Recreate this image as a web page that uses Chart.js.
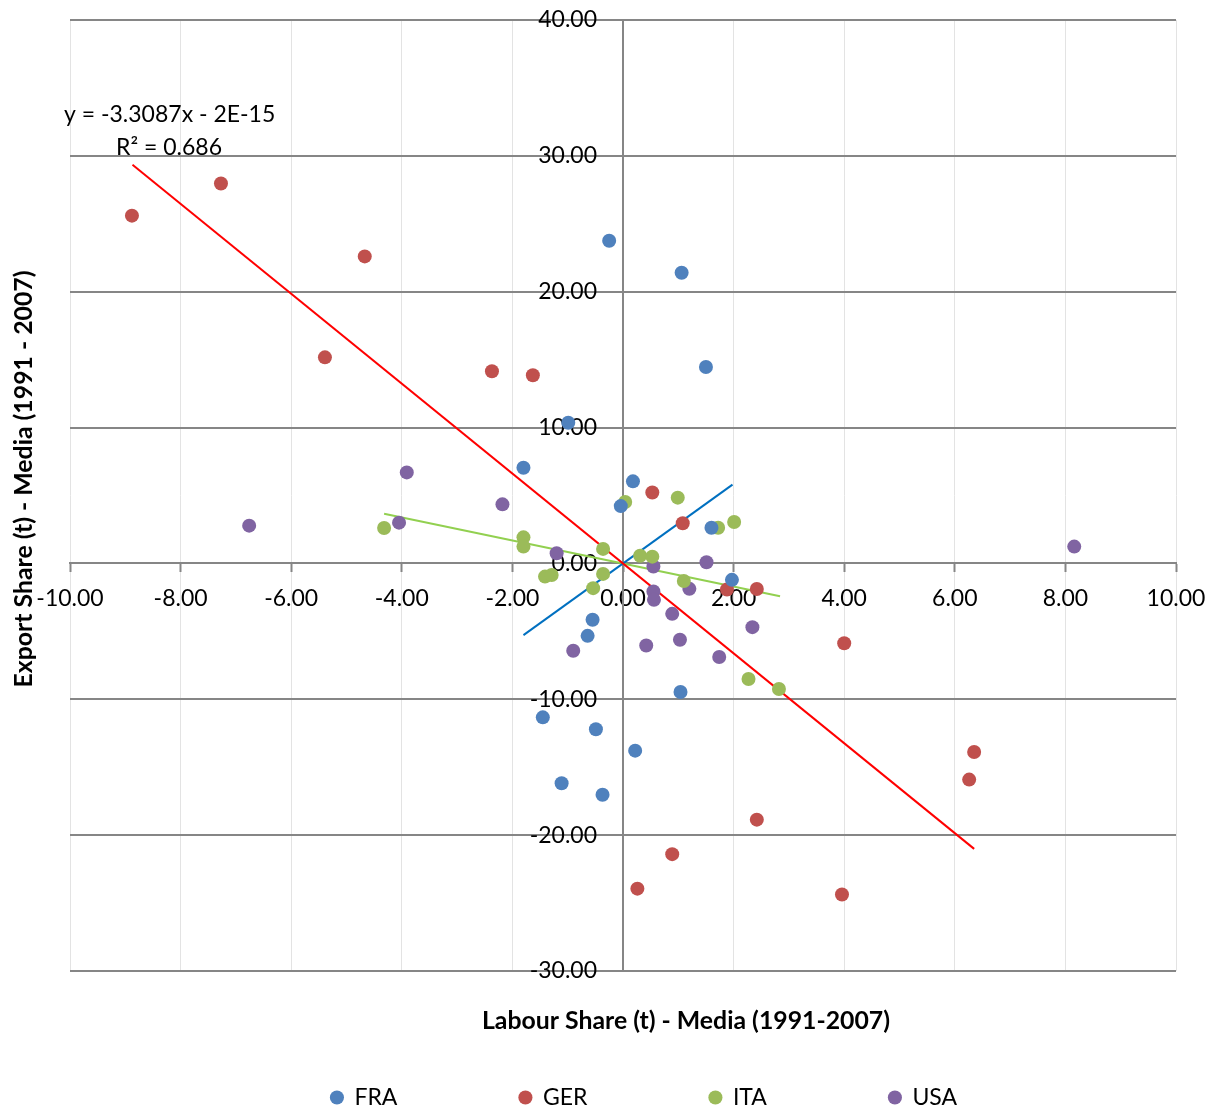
<!DOCTYPE html>
<html>
<head>
<meta charset="utf-8">
<script src="https://cdn.jsdelivr.net/npm/chart.js@4.4.0/dist/chart.umd.min.js"></script>
<style>
  html, body { margin: 0; padding: 0; background: #fff; }
</style>
</head>
<body>
<canvas id="scatterChart" width="1219" height="1110"></canvas>
<script>
// values (labour share x, export share y)
const fraX = [-0.25, 1.06, 1.50, -0.99, -1.80, 0.18, -0.04, 1.60, 1.97, -0.55, -0.64, 1.04, -1.45, -0.49, 0.22, -1.11, -0.37];
const fraY = [23.75, 21.40, 14.46, 10.35, 7.04, 6.04, 4.22, 2.63, -1.21, -4.15, -5.33, -9.46, -11.33, -12.21, -13.78, -16.18, -17.03];

const gerX = [-8.88, -7.27, -4.67, -5.39, -2.37, -1.63, 0.53, 1.08, 1.88, 2.42, 4.00, 6.35, 6.26, 2.42, 0.89, 0.26, 3.96];
const gerY = [25.60, 27.96, 22.60, 15.17, 14.15, 13.85, 5.22, 2.96, -1.92, -1.88, -5.88, -13.88, -15.91, -18.86, -21.40, -23.94, -24.37];

const itaX = [-4.32, -1.80, -1.80, -0.36, 0.04, 0.99, 1.72, 2.01, 0.31, 0.53, -1.41, -1.29, -0.36, -0.54, 1.10, 2.27, 2.82];
const itaY = [2.61, 1.92, 1.24, 1.07, 4.52, 4.84, 2.63, 3.05, 0.57, 0.50, -0.97, -0.85, -0.77, -1.82, -1.29, -8.51, -9.24];

const usaX = [-6.76, -4.05, -3.91, -2.18, -1.20, 0.55, 1.51, 1.20, 0.55, 0.56, 0.89, 2.34, -0.90, 0.42, 1.03, 1.74, 8.16];
const usaY = [2.78, 3.00, 6.70, 4.35, 0.75, -0.23, 0.09, -1.87, -2.07, -2.68, -3.71, -4.69, -6.43, -6.04, -5.62, -6.89, 1.24];

// trend line end points
const gerTrendX = [-8.87, 6.35];
const gerTrendY = [29.35, -21.01];
const fraTrendX = [-1.80, 1.98];
const fraTrendY = [-5.28, 5.80];
const itaTrendX = [-4.32, 2.84];
const itaTrendY = [3.65, -2.42];

const xTickVals = [-10, -8, -6, -4, -2, 0, 2, 4, 6, 8, 10];
const yTickVals = [-30, -20, -10, 0, 10, 20, 30, 40];

const xTitle = 'Labour Share (t) - Media (1991-2007)';
const yTitle = 'Export Share (t) - Media (1991 - 2007)';
const eqLine1 = 'y = -3.3087x - 2E-15';
const eqLine2 = 'R² = 0.686';

const FONT = 'Lato';

function toPoints(xs, ys) {
    return xs.map((x, i) => ({ x: x, y: ys[i] }));
}

function pointSet(label, xs, ys, color) {
    return {
        label: label,
        data: toPoints(xs, ys),
        backgroundColor: color,
        borderColor: color,
        pointRadius: 7,
        pointHoverRadius: 7,
        pointBorderWidth: 0,
        order: 1
    };
}

function trendSet(xs, ys, color) {
    return {
        label: 'trend',
        data: toPoints(xs, ys),
        showLine: true,
        borderColor: color,
        borderWidth: 2,
        pointRadius: 0,
        fill: false,
        order: 5
    };
}

// titles and trend equation
const textPlugin = {
    id: 'extraText',
    afterLayout(chart) {
        // nudge the legend to where Excel put it
        const lg = chart.legend;
        lg.left += 21; lg.right += 21;
        lg.top -= 7;
    },
    afterDraw(chart) {
        const ctx = chart.ctx;
        ctx.save();
        ctx.fillStyle = '#000';
        ctx.textBaseline = 'middle';

        ctx.font = 'bold 24.8px ' + FONT;
        ctx.textAlign = 'center';
        ctx.fillText(xTitle, 686, 1021);

        ctx.save();
        ctx.translate(24, 479);
        ctx.rotate(-Math.PI / 2);
        ctx.fillText(yTitle, 0, 0);
        ctx.restore();

        ctx.font = '23px ' + FONT;
        ctx.textAlign = 'left';
        ctx.fillText(eqLine1, 64, 115);
        ctx.fillText(eqLine2, 116, 148);
        ctx.restore();
    }
};

const ctx = document.getElementById('scatterChart').getContext('2d');
const chart = new Chart(ctx, {
    type: 'scatter',
    data: {
        datasets: [
            pointSet('FRA', fraX, fraY, '#4F81BD'),
            pointSet('GER', gerX, gerY, '#C0504D'),
            pointSet('ITA', itaX, itaY, '#9BBB59'),
            pointSet('USA', usaX, usaY, '#8064A2'),
            trendSet(gerTrendX, gerTrendY, '#FF0000'),
            trendSet(fraTrendX, fraTrendY, '#0070C0'),
            trendSet(itaTrendX, itaTrendY, '#92D050')
        ]
    },
    options: {
        responsive: false,
        animation: false,
        layout: { padding: { left: 70, right: 43, top: 20, bottom: 0 } },
        plugins: {
            tooltip: { enabled: false },
            legend: {
                position: 'bottom',
                maxHeight: 139,
                labels: {
                    usePointStyle: true,
                    pointStyle: 'circle',
                    boxWidth: 12,
                    boxHeight: 10,
                    padding: 122,
                    color: '#000',
                    font: { family: FONT, size: 23 },
                    filter: item => item.datasetIndex < 4
                }
            }
        },
        scales: {
            x: {
                type: 'linear',
                position: { y: 0 },
                min: -10,
                max: 10,
                afterBuildTicks: s => { s.ticks = xTickVals.map(v => ({ value: v })); },
                afterFit: s => { s.height = 0; s.paddingLeft = 0; s.paddingRight = 0; },
                grid: { color: '#e3e3e3', lineWidth: 1, tickColor: '#868686', tickLength: 8, tickWidth: 2 },
                border: { display: true, color: '#868686', width: 2 },
                ticks: {
                    color: '#000',
                    font: { family: FONT, size: 23 },
                    padding: 13,
                    maxRotation: 0,
                    callback: v => Number(v).toFixed(2)
                }
            },
            y: {
                type: 'linear',
                position: 'center',
                min: -30,
                max: 40,
                afterBuildTicks: s => { s.ticks = yTickVals.map(v => ({ value: v })); },
                afterFit: s => { s.width = 0; s.paddingTop = 0; s.paddingBottom = 0; },
                grid: { color: '#868686', lineWidth: 2, tickColor: '#868686', tickLength: 7, tickWidth: 2 },
                border: { display: true, color: '#868686', width: 2 },
                ticks: {
                    color: '#000',
                    font: { family: FONT, size: 23 },
                    padding: 19,
                    callback: v => Number(v).toFixed(2)
                }
            }
        }
    },
    plugins: [textPlugin]
});
</script>
</body>
</html>
